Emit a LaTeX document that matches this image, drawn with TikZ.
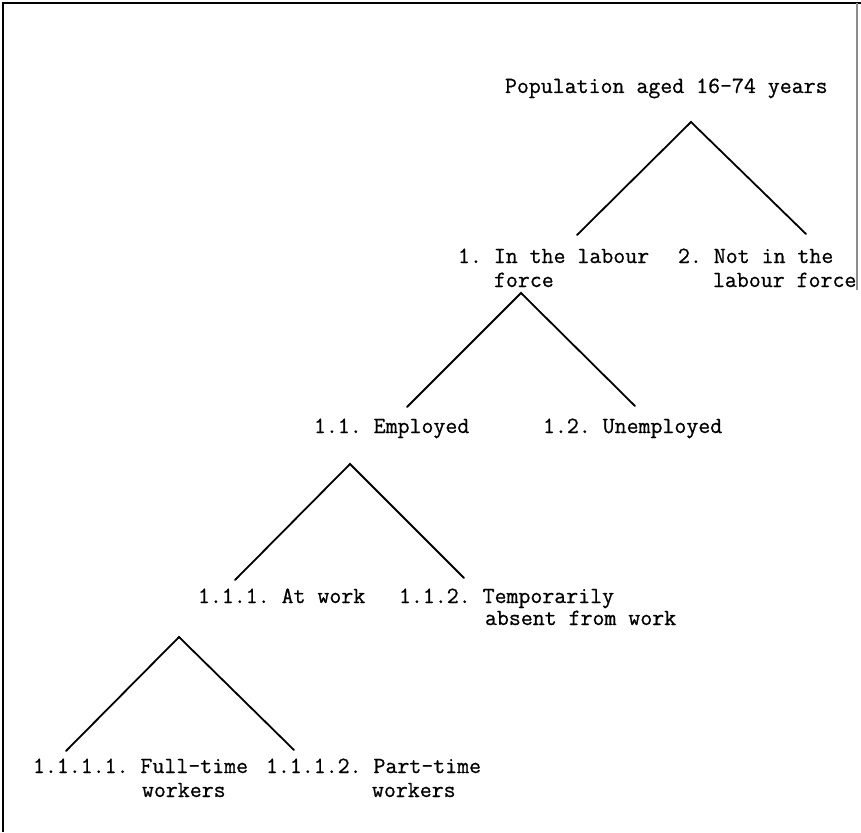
\documentclass[tikz,border=0pt]{standalone}
\usepackage{fontspec}
\newfontfamily\twfont[AutoFakeBold=0.7]{Latin Modern Mono}
\begin{document}
\frenchspacing
\begin{tikzpicture}[x=1pt,y=-1pt,
  lbl/.style={anchor=base west,inner sep=0pt,outer sep=0pt,font=\twfont\bfseries\fontsize{23.2}{24}\selectfont},
  branch/.style={line width=1.8pt,line cap=round,black},
  frame/.style={line width=2pt,black}]
\useasboundingbox (0,0) rectangle (861,832);
% frame
\draw[frame] (3,832) -- (3,3) -- (861,3);
\draw[line width=1.2pt,black!45] (857,3) -- (857,290);
% labels
\node[lbl] (pop) at (505,93) {Population aged 16-74 years};
\node[lbl] (lf1) at (458,263) {1. In the labour};
\node[lbl] (lf2) at (494,287) {force};
\node[lbl] (nlf1) at (678,263) {2. Not in the};
\node[lbl] (nlf2) at (713,287) {labour force};
\node[lbl] (emp) at (314,433) {1.1. Employed};
\node[lbl] (unemp) at (543,433) {1.2. Unemployed};
\node[lbl] (atw) at (198,603) {1.1.1. At work};
\node[lbl] (tmp1) at (399,603) {1.1.2. Temporarily};
\node[lbl] (tmp2) at (485,625) {absent from work};
\node[lbl] (ft1) at (33,773) {1.1.1.1. Full-time};
\node[lbl] (ft2) at (142,797) {workers};
\node[lbl] (pt1) at (266,773) {1.1.1.2. Part-time};
\node[lbl] (pt2) at (372,797) {workers};
% connector points
\coordinate (a1) at (691,122);
\coordinate (a1l) at (577,235);
\coordinate (a1r) at (806,234);
\coordinate (a2) at (521,293);
\coordinate (a2l) at (407,407);
\coordinate (a2r) at (635,406);
\coordinate (a3) at (350,464);
\coordinate (a3l) at (235,580);
\coordinate (a3r) at (464,578);
\coordinate (a4) at (179,637);
\coordinate (a4l) at (66,751);
\coordinate (a4r) at (294,750);
\draw[branch] (a1l) -- (a1) -- (a1r);
\draw[branch] (a2l) -- (a2) -- (a2r);
\draw[branch] (a3l) -- (a3) -- (a3r);
\draw[branch] (a4l) -- (a4) -- (a4r);
\end{tikzpicture}
\end{document}
